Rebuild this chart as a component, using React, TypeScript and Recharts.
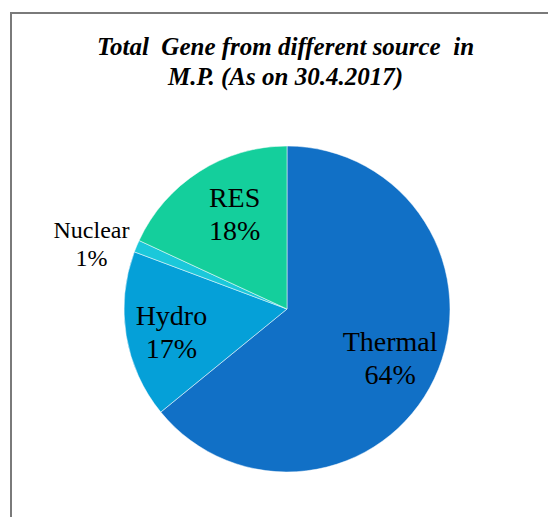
import { PieChart, Pie, Cell } from "recharts";

const sources = ["Thermal", "Hydro", "Nuclear", "RES"];
const shares = [64.1, 16.6, 1.2, 18.1];
const colors = ["#1170C6", "#05A0D8", "#1BC8DA", "#14CF9C"];
const titleLines = ["Total  Gene from different source  in", "M.P. (As on 30.4.2017)"];

const data = sources.map((name, i) => ({ name, value: shares[i] }));

const RAD = Math.PI / 180;

// small hand nudges so labels sit where the original placed them
const nudge: Record<string, [number, number]> = {
  Thermal: [0, 0],
  Hydro: [-3, 5],
  RES: [9, 1],
  Nuclear: [-6, 14],
};

const renderLabel = (props: any) => {
  const { cx, cy, midAngle, outerRadius, percent, index } = props;
  const name = sources[index];
  const outside = name === "Nuclear";
  const r = outerRadius * (outside ? 1.26 : 0.7);
  const x = cx + r * Math.cos(-midAngle * RAD) + nudge[name][0];
  const y = cy + r * Math.sin(-midAngle * RAD) + nudge[name][1];
  const size = outside ? 24 : 28;
  const half = outside ? 14 : 16.5;
  const base = y + size * 0.33;
  return (
    <text
      x={x}
      y={y}
      textAnchor="middle"
      fill="#000"
      style={{ fontFamily: "'Liberation Serif', 'Times New Roman', serif", fontSize: size }}
    >
      <tspan x={x} y={base - half}>{name}</tspan>
      <tspan x={x} y={base + half}>{`${Math.round(percent * 100)}%`}</tspan>
    </text>
  );
};

export default function App() {
  return (
    <div style={{ position: "absolute", left: 0, top: 0, width: 548, height: 517, overflow: "hidden", background: "#fff" }}>
      {/* frame */}
      <div
        style={{
          position: "absolute",
          left: 10,
          top: 12,
          width: 600,
          height: 600,
          border: "2px solid #7a7a7a",
          boxSizing: "border-box",
        }}
      />
      {/* title */}
      <div
        style={{
          position: "absolute",
          left: 0,
          top: 32,
          width: 571,
          textAlign: "center",
          fontFamily: "'Liberation Serif', 'Times New Roman', serif",
          fontWeight: "bold",
          fontStyle: "italic",
          fontSize: 25,
          lineHeight: "30px",
          color: "#000",
          whiteSpace: "pre",
        }}
      >
        {titleLines.map((t) => (
          <div key={t}>{t}</div>
        ))}
      </div>
      <div style={{ position: "absolute", left: 0, top: 0 }}>
        <PieChart width={548} height={517} margin={{ top: 0, right: 0, bottom: 0, left: 0 }}>
          <Pie
            data={data}
            dataKey="value"
            nameKey="name"
            cx={287}
            cy={309}
            outerRadius={163}
            startAngle={90}
            endAngle={-270}
            stroke="#ffffff"
            strokeWidth={0.5}
            label={renderLabel}
            labelLine={false}
            isAnimationActive={false}
          >
            {data.map((d, i) => (
              <Cell key={d.name} fill={colors[i]} />
            ))}
          </Pie>
        </PieChart>
      </div>
    </div>
  );
}
